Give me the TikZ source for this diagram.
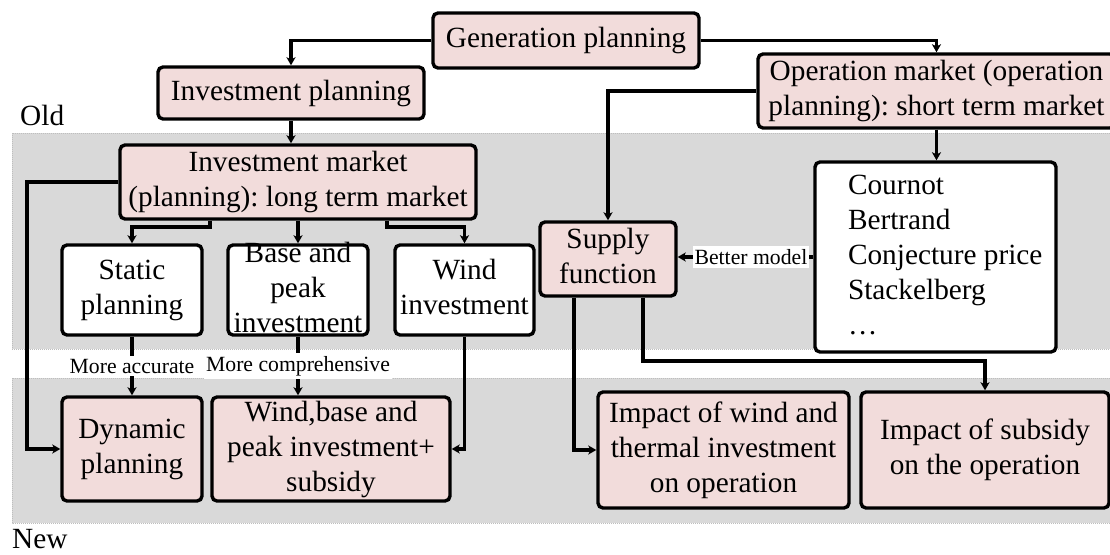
\documentclass[tikz,border=0pt]{standalone}
\usepackage{fontspec}
\setmainfont{Liberation Serif}
\usetikzlibrary{arrows.meta}
\definecolor{boxpink}{RGB}{242,220,219}
\definecolor{bandgray}{RGB}{217,217,217}
\definecolor{banddot}{RGB}{190,190,190}
\newcommand\mainfs{\fontsize{29.3}{35}\selectfont}
\newcommand\smallfs{\fontsize{21.7}{26}\selectfont}
\newcommand\cbox[1]{\vbox to 0pt{\vss\hbox{\begin{tabular}{@{}c@{}}#1\end{tabular}}\vss}}
\newcommand\lbox[1]{\vbox to 0pt{\vss\hbox to 241pt{\hskip33pt\begin{tabular}{@{}l@{}}#1\end{tabular}\hss}\vss}}
\frenchspacing
\begin{document}
\begin{tikzpicture}[x=1pt,y=-1pt,
  box/.style={draw=black, line width=3.4pt, rounded corners=5pt, fill=boxpink, inner sep=0pt, font=\mainfs},
  wbox/.style={box, fill=white},
  conn/.style={line width=3.1pt, -{Stealth[length=8pt,width=9pt,inset=2pt]}},
  lab/.style={fill=white, inner xsep=2pt, inner ysep=3pt, font=\smallfs},
  band/.style={fill=bandgray, draw=banddot, densely dotted, line width=1pt},
  side/.style={anchor=base west, inner sep=0pt, font=\mainfs}]
\useasboundingbox (0,0) rectangle (1110,554);

% bands
\path[band] (12,133) rectangle (1112,349);
\path[band] (12,378) rectangle (1112,523);

\node[side] (old) at (20,125) {Old};
\node[side] (new) at (12,548) {New};

% boxes
\node[box, minimum width=266pt, minimum height=55pt] (gen) at (566,40.5) {\cbox{Generation planning}};
\node[box, minimum width=266pt, minimum height=52pt] (invp) at (291,93) {\cbox{Investment planning}};
\node[box, minimum width=357pt, minimum height=74pt] (op) at (936.5,91) {\cbox{Operation market (operation\\planning): short term market}};
\node[box, minimum width=356pt, minimum height=74pt] (invm) at (298,182) {\cbox{Investment market\\(planning): long term market}};
\node[wbox, minimum width=241pt, minimum height=190pt] (cour) at (935.5,257) {\lbox{Cournot\\Bertrand\\Conjecture price\\Stackelberg\\…}};
\node[box, minimum width=136pt, minimum height=74pt] (sup) at (608,259) {\cbox{Supply\\function}};
\node[wbox, minimum width=140pt, minimum height=90pt] (stat) at (132,290) {\cbox{Static\\planning}};
\node[wbox, minimum width=140pt, minimum height=90pt] (base) at (298,290) {\cbox{Base and\\peak\\investment}};
\node[wbox, minimum width=139pt, minimum height=90pt] (wind) at (464.5,290) {\cbox{Wind\\investment}};
\node[box, minimum width=140pt, minimum height=104pt] (dyn) at (132,449) {\cbox{Dynamic\\planning}};
\node[box, minimum width=238pt, minimum height=104pt] (wb) at (331,449) {\cbox{Wind,base and\\peak investment+\\subsidy}};
\node[box, minimum width=251pt, minimum height=116pt] (iw) at (723.5,450) {\cbox{Impact of wind and\\thermal investment\\on operation}};
\node[box, minimum width=248pt, minimum height=116pt] (is) at (985,450) {\cbox{Impact of subsidy\\on the operation}};

% helper coordinates
\coordinate (lx) at (27,0);
\coordinate (a1) at (210,227);
\coordinate (a2) at (387,227);
\coordinate (s1) at (574,0);
\coordinate (s3) at (643,361);

% connectors
\draw[conn] (gen.west) -| (invp.north);
\draw[conn] (gen.east) -| (op.north);
\draw[conn] (invp.south) -- (invp.south |- invm.north);
\draw[conn] (op.south) -- (op.south |- cour.north);
\draw[conn] (op.west) -| (sup.north);
\draw[conn] (invm.west) -- (invm.west -| lx) |- (dyn.west);
\draw[conn] (a1 |- invm.south) -- (a1) -| (stat.north);
\draw[conn] (invm.south) -- (invm.south |- base.north);
\draw[conn] (a2 |- invm.south) -- (a2) -| (wind.north);
\draw[conn] (stat.south) -- node[lab] (ma) {More accurate} (stat.south |- dyn.north);
\draw[conn] (base.south) -- node[lab] (mc) {More comprehensive} (base.south |- wb.north);
\draw[conn] (wind.south) |- (wb.east);
\draw[conn] (cour.west) -- node[lab, pos=0.46] (bm) {Better model} (cour.west -| sup.east);
\draw[conn] (sup.south -| s1) |- (iw.west);
\draw[conn] (s3 |- sup.south) -- (s3) -| (is.north);
\end{tikzpicture}
\end{document}
